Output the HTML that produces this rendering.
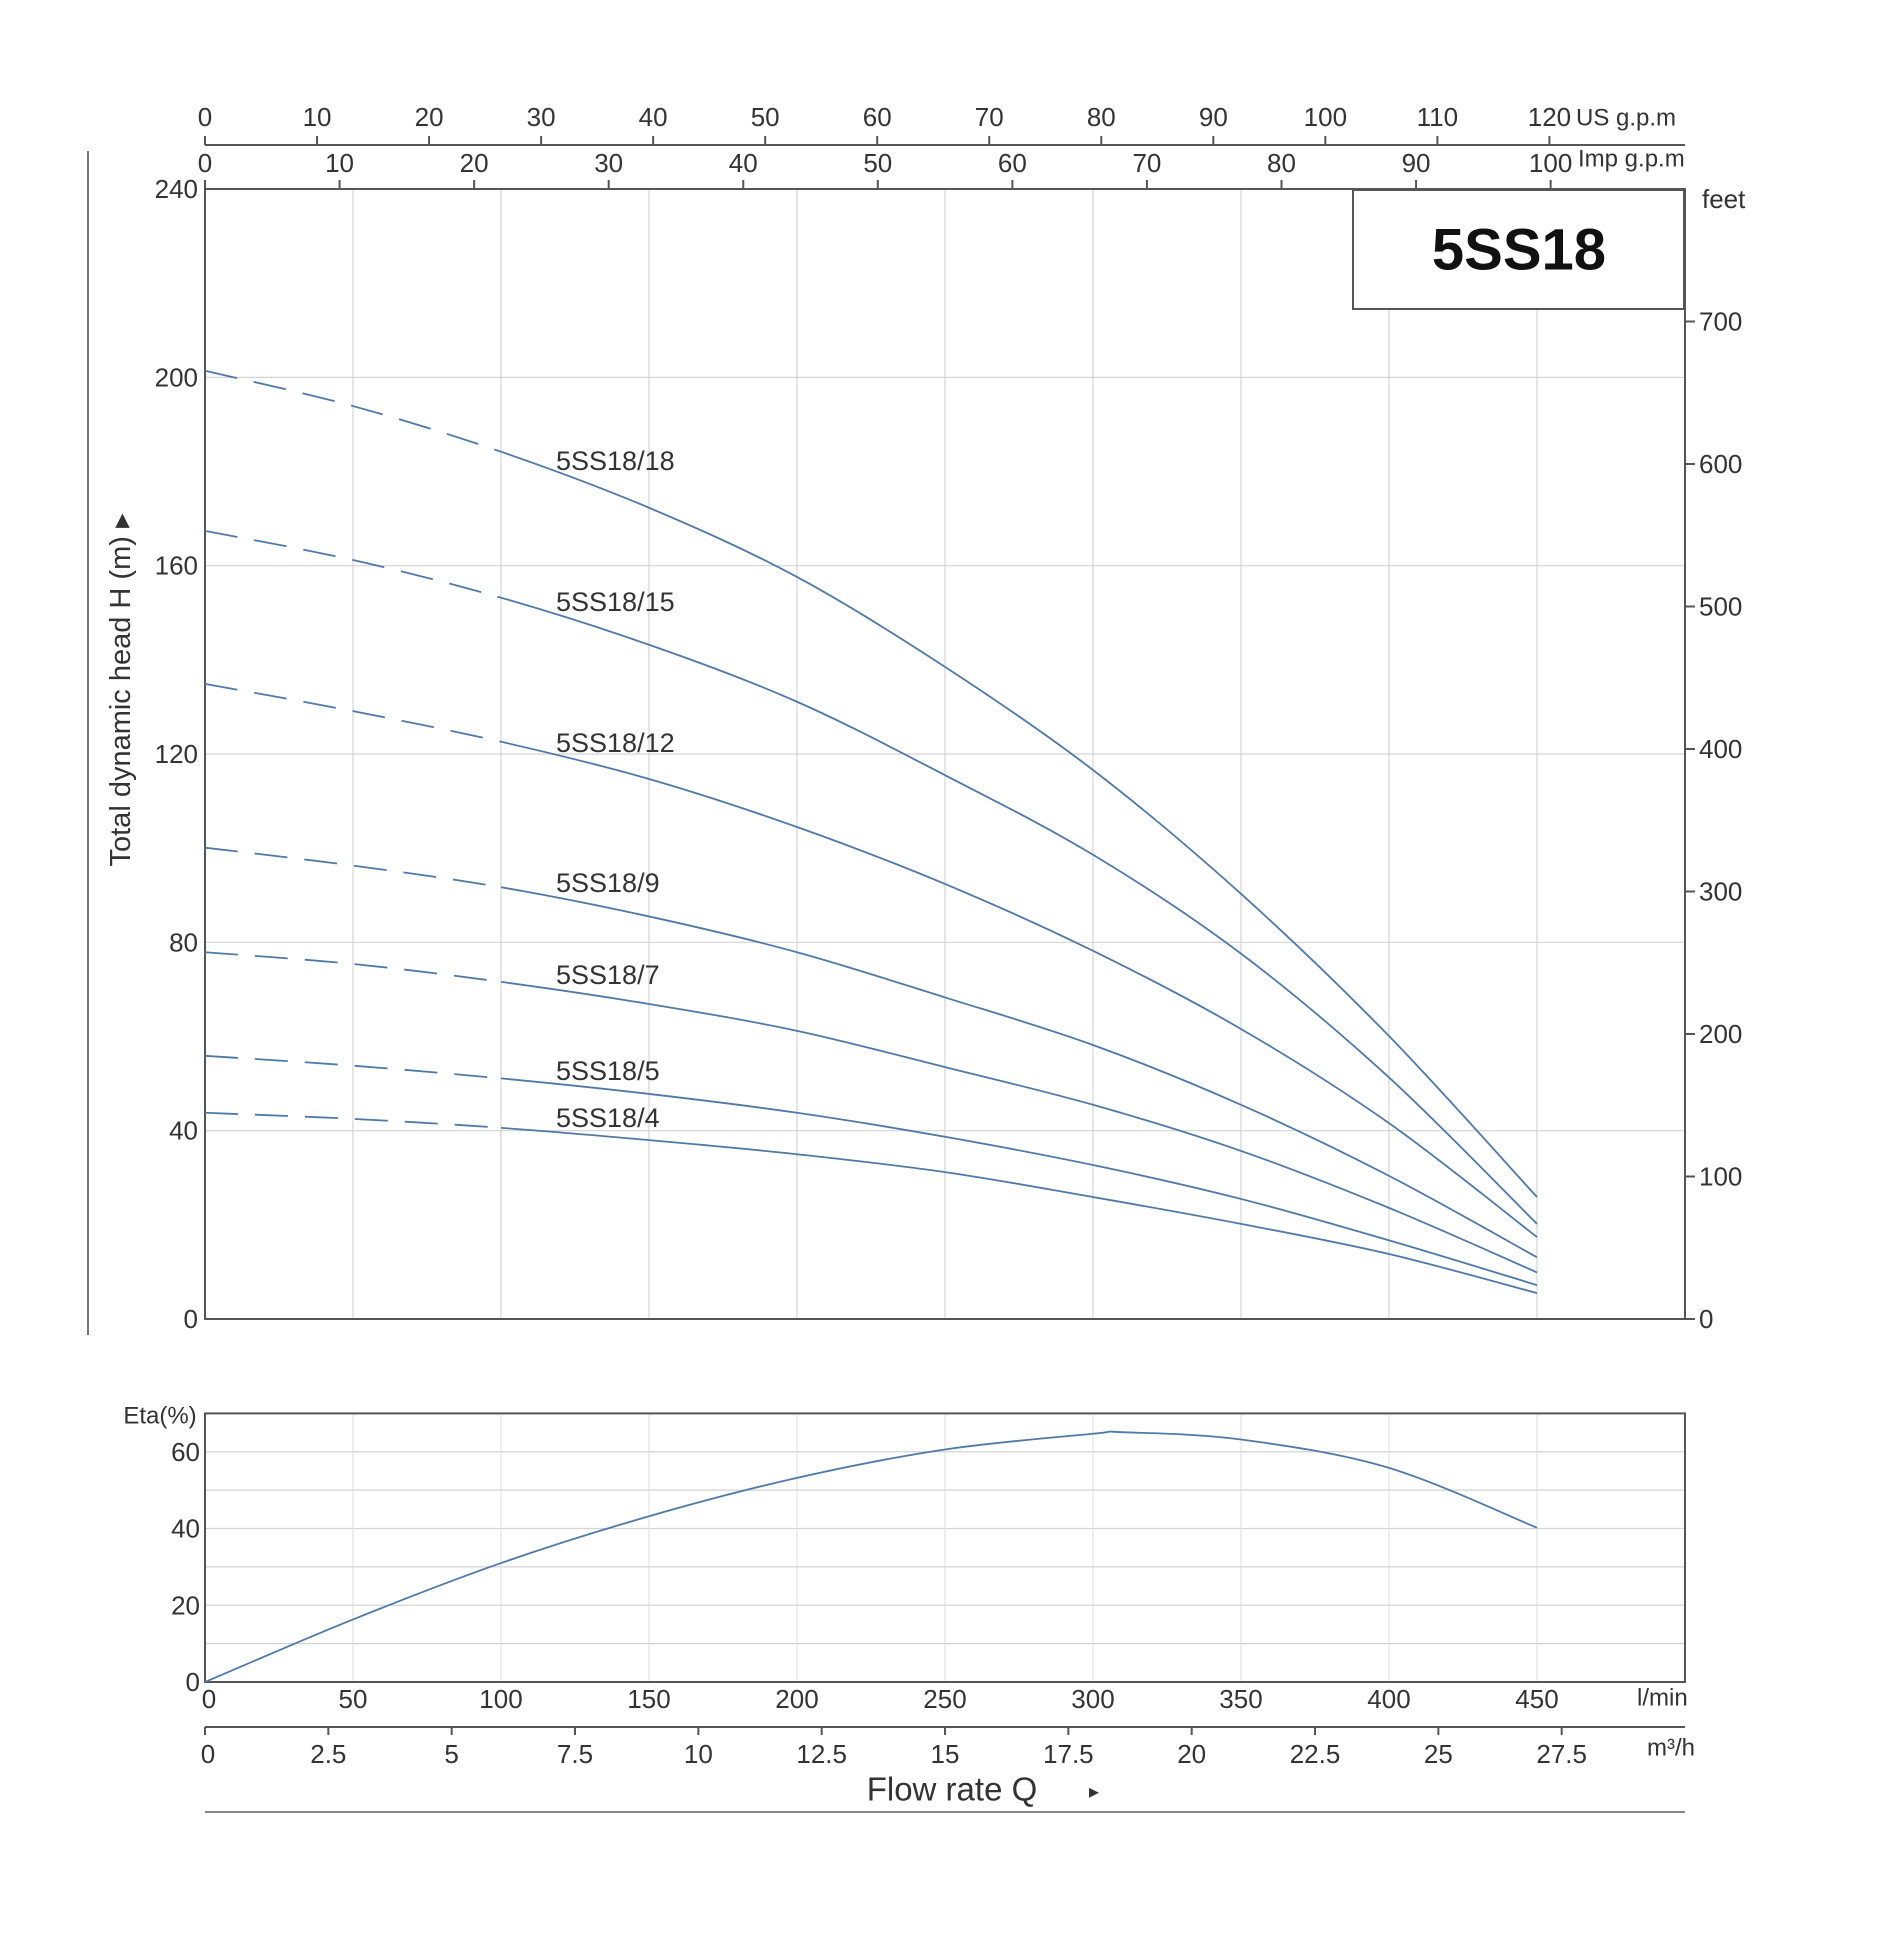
<!DOCTYPE html>
<html><head><meta charset="utf-8"><style>
body{margin:0;background:#fff}
svg{display:block;font-family:"Liberation Sans",sans-serif;fill:#333}
</style></head><body>
<svg id="c" width="1886" height="1957" viewBox="0 0 1886 1957" xmlns="http://www.w3.org/2000/svg"></svg>
<script>
const flowPoints=[0,50,100,150,200,250,300,350,400,450];
const series18=[201.4,193.9,184.2,172.3,157.6,138.5,116.6,90.3,60.1,25.9];
const series15=[167.4,161.2,153.2,143.2,131.1,115.5,98.6,77.6,51.3,20.2];
const series12=[134.9,129.1,122.6,114.7,104.5,92.4,78.2,61.6,41.6,17.4];
const series9=[100.1,96.3,91.7,85.5,77.9,68.3,58.2,45.5,30.4,13.1];
const series7=[77.9,75.4,71.6,66.9,61.2,53.5,45.5,35.7,23.6,9.9];
const series5=[55.9,53.8,51.1,47.8,43.8,38.7,32.7,25.5,16.7,7.2];
const series4=[43.8,42.5,40.6,38.0,35.0,31.2,25.9,20.2,13.8,5.5];
const seriesNames=["5SS18/18","5SS18/15","5SS18/12","5SS18/9","5SS18/7","5SS18/5","5SS18/4"];
const etaFlow=[0,50,100,150,200,250,300,310,350,400,450];
const etaValues=[0,16.3,31,43.2,53.2,60.6,64.7,65.1,63.2,55.8,40.2];
const headTicks=[0,40,80,120,160,200,240];
const feetTicks=[0,100,200,300,400,500,600,700];
const lminTicks=[0,50,100,150,200,250,300,350,400,450];
const m3hTicks=[0,2.5,5,7.5,10,12.5,15,17.5,20,22.5,25,27.5];
const usTicks=[0,10,20,30,40,50,60,70,80,90,100,110,120];
const impTicks=[0,10,20,30,40,50,60,70,80,90,100];
const etaTicks=[0,20,40,60];

const NS="http://www.w3.org/2000/svg";
const svg=document.getElementById('c');
const X=q=>205+q*2.96;
const Y=h=>1319-h*4.7083;
const YF=f=>1319-f*1.425;
const YE=e=>1682-e*3.837;
function el(tag,attrs,parent){const e=document.createElementNS(NS,tag);for(const k in attrs)e.setAttribute(k,attrs[k]);(parent||svg).appendChild(e);return e;}
function txt(x,y,s,size,anchor,parent){const t=el('text',{x:x,y:y,'font-size':size,'text-anchor':anchor||'middle','dominant-baseline':'central'},parent);t.textContent=s;return t;}
function smooth(pts){let d='M'+pts[0][0]+','+pts[0][1];for(let i=0;i<pts.length-1;i++){const p0=pts[i-1]||pts[i],p1=pts[i],p2=pts[i+1],p3=pts[i+2]||p2;const c1=[p1[0]+(p2[0]-p0[0])/6,p1[1]+(p2[1]-p0[1])/6],c2=[p2[0]-(p3[0]-p1[0])/6,p2[1]-(p3[1]-p1[1])/6];d+=' C'+c1+' '+c2+' '+p2;}return d;}

const defs=el('defs',{});
const c1=el('clipPath',{id:'clipL'},defs);el('rect',{x:0,y:0,width:X(100),height:1957},c1);
const c2=el('clipPath',{id:'clipR'},defs);el('rect',{x:X(100),y:0,width:1886,height:1957},c2);

// grid main
const grid=el('g',{stroke:'#d4d4d4','stroke-width':1.2});


for(let q=50;q<500;q+=50)el('line',{x1:X(q),y1:Y(240),x2:X(q),y2:Y(0)},grid);
for(const h of headTicks)if(h>0&&h<240)el('line',{x1:X(0),y1:Y(h),x2:X(500),y2:Y(h)},grid);
const frame=el('rect',{x:X(0),y:Y(240),width:X(500)-X(0),height:Y(0)-Y(240),fill:'none',stroke:'#555','stroke-width':2});


el('line',{x1:88,y1:151,x2:88,y2:1335,stroke:'#777','stroke-width':2});

for(const h of headTicks){const t=txt(198,Y(h),String(h),26,'end');}
for(const f of feetTicks){const y=YF(f);el('line',{x1:X(500),y1:y,x2:X(500)+10,y2:y,stroke:'#555','stroke-width':2});const t=txt(X(500)+14,y,String(f),26,'start');}
txt(1702,199,'feet',26,'start');
el('line',{x1:X(0),y1:145,x2:X(500),y2:145,stroke:'#555','stroke-width':2});
for(const g of usTicks){const x=X(g*3.785);el('line',{x1:x,y1:145,x2:x,y2:136,stroke:'#555','stroke-width':2});const t=txt(x,117,String(g),26);}
txt(1576,118,'US g.p.m',24,'start');
for(const g of impTicks){const x=X(g*4.546);el('line',{x1:x,y1:189,x2:x,y2:180,stroke:'#555','stroke-width':2});const t=txt(x,163,String(g),26);}
txt(1578,159,'Imp g.p.m',24,'start');

const box=el('rect',{x:1353,y:190,width:331,height:119,fill:'#fff',stroke:'#555','stroke-width':2});


const tt=txt(1519,250,'5SS18',58);tt.setAttribute('font-weight','bold');tt.setAttribute('fill','#111');



const yt=txt(0,0,'Total dynamic head H (m) ▸',29);
yt.setAttribute('transform','translate(121,690) rotate(-90)');



const allSeries=[series18,series15,series12,series9,series7,series5,series4];
const labelY=[461,602,743,883,975,1071,1118];
allSeries.forEach((s,i)=>{
  const pts=flowPoints.map((q,j)=>[X(q),Y(s[j])]);
  const d=smooth(pts);
  const g=el('g',{});
  
  
  el('path',{d:d,fill:'none',stroke:'#4f79a6','stroke-width':1.8,'stroke-dasharray':'33,17','clip-path':'url(#clipL)'},g);
  el('path',{d:d,fill:'none',stroke:'#4f79a6','stroke-width':1.8,'clip-path':'url(#clipR)'},g);
  const lb=txt(556,labelY[i],seriesNames[i],27,'start');
  
  
});

// eta chart
const eg=el('g',{stroke:'#d4d4d4','stroke-width':1.2});


for(let e=10;e<70;e+=10)el('line',{x1:X(0),y1:YE(e),x2:X(500),y2:YE(e)},eg);
for(let q=50;q<500;q+=50)el('line',{x1:X(q),y1:YE(70),x2:X(q),y2:YE(0),stroke:'#e2e2e2'},eg);
const ef=el('rect',{x:X(0),y:YE(70),width:X(500)-X(0),height:YE(0)-YE(70),fill:'none',stroke:'#555','stroke-width':2});


const ep=el('path',{d:smooth(etaFlow.map((q,j)=>[X(q),YE(etaValues[j])])),fill:'none',stroke:'#4f79a6','stroke-width':1.8});


for(const e of etaTicks){const t=txt(200,YE(e),String(e),26,'end');}
txt(160,1416,'Eta(%)',24);
for(const q of lminTicks){const t=txt(q===0?X(q)+4:X(q),1699,String(q),26);}
txt(1637,1698,'l/min',24,'start');
el('line',{x1:X(0),y1:1727,x2:X(500),y2:1727,stroke:'#555','stroke-width':2});
for(const m of m3hTicks){const x=X(m*16.667);el('line',{x1:x,y1:1727,x2:x,y2:1735,stroke:'#555','stroke-width':2});const t=txt(m===0?x+3:x,1754,String(m),26);}
txt(1647,1748,'m³/h',24,'start');
const xt=txt(952,1789,'Flow rate Q',33);


txt(1094,1792,'▸',20);
el('line',{x1:X(0),y1:1812,x2:X(500),y2:1812,stroke:'#888','stroke-width':2});
</script>
</body></html>
